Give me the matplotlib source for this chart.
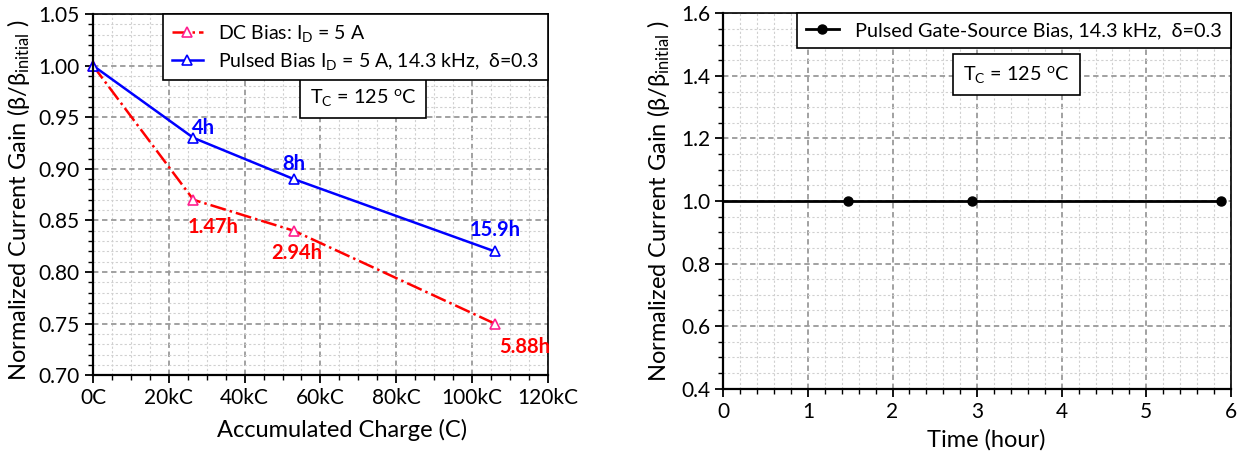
import matplotlib
matplotlib.use('Agg')
import matplotlib.pyplot as plt
from matplotlib.ticker import MultipleLocator

# Data - left panel (charge in kC)
dc_charge = [0, 26.5, 53, 106]
dc_gain = [1.0, 0.87, 0.84, 0.75]
dc_hours = ['', '1.47h', '2.94h', '5.88h']

pulsed_charge = [0, 26.5, 53, 106]
pulsed_gain = [1.0, 0.93, 0.89, 0.82]
pulsed_hours = ['', '4h', '8h', '15.9h']

charge_ticks = [0, 20, 40, 60, 80, 100, 120]
charge_labels = ['0C', '20kC', '40kC', '60kC', '80kC', '100kC', '120kC']

# Data - right panel
gs_time = [0, 1.47, 2.94, 5.88]
gs_gain = [1.0, 1.0, 1.0, 1.0]

plt.rcParams['font.family'] = ['Lato', 'DejaVu Sans']
plt.rcParams['mathtext.default'] = 'regular'

ylabel = 'Normalized Current Gain (β/β$_{initial}$ )'
tc_text = 'T$_C$ = 125 $^o$C'


def style_axes(ax):
    ax.grid(which='major', color='#9a9a9a', linestyle=(0, (3, 2)), linewidth=1.3)
    ax.grid(which='minor', color='#d0d0d0', linestyle=(0, (2, 2)), linewidth=0.8)
    ax.set_axisbelow(True)
    for side in ['left', 'bottom']:
        ax.spines[side].set_linewidth(1.6)
    for side in ['top', 'right']:
        ax.spines[side].set_linewidth(1.2)
    ax.tick_params(which='major', direction='out', length=6, width=1.3,
                   labelsize=15, colors='black')
    ax.tick_params(which='minor', direction='out', length=3.5, width=1.0)


fig = plt.figure(figsize=(12.43, 4.57), dpi=100)

# Left panel
ax1 = fig.add_axes([0.0748, 0.1788, 0.366, 0.7906])
ax1.plot(dc_charge, dc_gain, color='#ff0000', linestyle='-.', linewidth=1.8,
         marker='^', markersize=7, markerfacecolor='white',
         markeredgecolor='#ff1f8f', markeredgewidth=1.2, clip_on=False,
         label='DC Bias: I$_D$ = 5 A')
ax1.plot(pulsed_charge, pulsed_gain, color='#0000ff', linestyle='-', linewidth=1.8,
         marker='^', markersize=7, markerfacecolor='white',
         markeredgecolor='#0000ff', markeredgewidth=1.2, clip_on=False,
         label='Pulsed Bias I$_D$ = 5 A, 14.3 kHz,  δ=0.3')

dc_offsets = [(0, 0), (20, -27), (3, -22), (30, -23)]
for x, y, txt, off in zip(dc_charge, dc_gain, dc_hours, dc_offsets):
    if txt:
        ax1.annotate(txt, (x, y), xytext=off, textcoords='offset pixels',
                     ha='center', va='center', color='#ff0000',
                     fontsize=14.5, fontweight='bold')
pulsed_offsets = [(0, 0), (10, 10), (0, 15), (0, 21)]
for x, y, txt, off in zip(pulsed_charge, pulsed_gain, pulsed_hours, pulsed_offsets):
    if txt:
        ax1.annotate(txt, (x, y), xytext=off, textcoords='offset pixels',
                     ha='center', va='center', color='#0000ff',
                     fontsize=14.5, fontweight='bold')

ax1.set_xlim(0, 120)
ax1.set_ylim(0.70, 1.05)
ax1.set_xticks(charge_ticks)
ax1.set_xticklabels(charge_labels)
ax1.xaxis.set_minor_locator(MultipleLocator(5))
ax1.yaxis.set_major_locator(MultipleLocator(0.05))
ax1.yaxis.set_minor_locator(MultipleLocator(0.01))
ax1.yaxis.set_major_formatter(plt.FormatStrFormatter('%.2f'))
style_axes(ax1)
ax1.set_xlabel('Accumulated Charge (C)', fontsize=17)
ax1.set_ylabel(ylabel, fontsize=17)
ax1.xaxis.set_label_coords(0.547, -0.122)
ax1.yaxis.set_label_coords(-0.134, 0.485)

leg1 = ax1.legend(loc='upper right', borderaxespad=0, fontsize=14,
                  fancybox=False, framealpha=1, edgecolor='black',
                  handlelength=1.6, borderpad=0.45, labelspacing=0.35)
leg1.get_frame().set_linewidth(1.2)
ax1.text(0.594, 0.769, tc_text, transform=ax1.transAxes, ha='center', va='center',
         fontsize=14.3, zorder=5,
         bbox=dict(boxstyle='square,pad=0.5', facecolor='white',
                   edgecolor='black', linewidth=1.2))

# Right panel
ax2 = fig.add_axes([0.5819, 0.1495, 0.4084, 0.8214])
ax2.plot(gs_time, gs_gain, color='black', linewidth=2, marker='o', markersize=6.5,
         markevery=[1, 2, 3], clip_on=False,
         label='Pulsed Gate-Source Bias, 14.3 kHz,  δ=0.3')
ax2.set_xlim(0, 6)
ax2.set_ylim(0.4, 1.6)
ax2.xaxis.set_major_locator(MultipleLocator(1))
ax2.xaxis.set_minor_locator(MultipleLocator(0.2))
ax2.yaxis.set_major_locator(MultipleLocator(0.2))
ax2.yaxis.set_minor_locator(MultipleLocator(0.05))
ax2.yaxis.set_major_formatter(plt.FormatStrFormatter('%.1f'))
style_axes(ax2)
ax2.set_xlabel('Time (hour)', fontsize=17)
ax2.set_ylabel(ylabel, fontsize=17)
ax2.xaxis.set_label_coords(0.518, -0.107)
ax2.yaxis.set_label_coords(-0.101, 0.5)

leg2 = ax2.legend(loc='upper right', borderaxespad=0, fontsize=14.3,
                  fancybox=False, framealpha=1, edgecolor='black',
                  handlelength=1.7, borderpad=0.45)
leg2.get_frame().set_linewidth(1.2)
ax2.text(0.5775, 0.836, tc_text, transform=ax2.transAxes, ha='center', va='center',
         fontsize=14.3, zorder=5,
         bbox=dict(boxstyle='square,pad=0.5', facecolor='white',
                   edgecolor='black', linewidth=1.2))

fig.savefig('out.png', dpi=100)
